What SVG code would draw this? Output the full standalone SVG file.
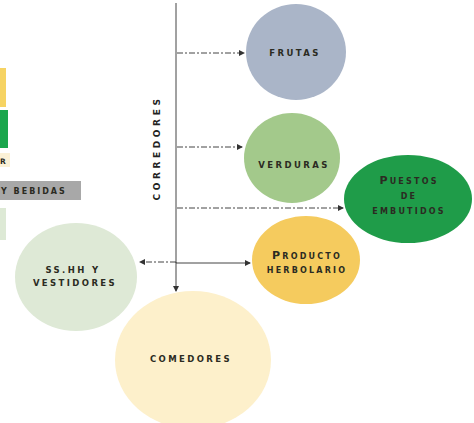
<svg xmlns="http://www.w3.org/2000/svg" width="474" height="423" viewBox="0 0 474 423">
<defs>
<marker id="ah" viewBox="0 0 6 6" refX="5" refY="3" markerWidth="6" markerHeight="6" orient="auto" markerUnits="userSpaceOnUse">
<path d="M0,0 L6,3 L0,6 Z" fill="#333"/>
</marker>
</defs>
<style>
.lbl{font-family:"DejaVu Sans","Liberation Sans",sans-serif;font-weight:bold;font-size:8.5px;letter-spacing:2.4px;fill:#2b2b22;text-anchor:middle}
.sc{font-size:11px;font-variant:small-caps;letter-spacing:2.2px}
.dd{stroke:#444;stroke-width:1;fill:none;stroke-dasharray:6 2 2 2;marker-end:url(#ah)}
.sl{stroke:#444;stroke-width:1;fill:none;marker-end:url(#ah)}
</style>
<rect width="474" height="423" fill="#fff"/>
<g id="legend">
<rect x="0" y="68" width="6" height="39" fill="#f6d363"/>
<rect x="0" y="110" width="8" height="38" fill="#1aa64c"/>
<rect x="0" y="153" width="10" height="14" fill="#fbf1d6"/>
<text x="0" y="164" class="lbl" style="text-anchor:start;font-size:7.5px">R</text>
<rect x="0" y="181" width="81" height="19" fill="#a8a8a8"/>
<text x="1" y="194" class="lbl" style="text-anchor:start;font-size:8px;letter-spacing:2px">Y BEBIDAS</text>
<rect x="0" y="208" width="6" height="32" fill="#dde9d5"/>
</g>
<g id="corredores">
<line x1="176" y1="3" x2="176" y2="263" stroke="#444" stroke-width="1"/>
<text x="160" y="148" class="lbl" transform="rotate(-90 160 148)" style="font-size:9px;letter-spacing:3.6px;fill:#222">CORREDORES</text>
</g>
<g id="connectors">
<path class="dd" d="M177,53 H244"/>
<path class="dd" d="M177,147 H242"/>
<path class="dd" d="M177,208 H343"/>
<path class="sl" d="M176,263 H250"/>
<path class="dd" d="M176,262 H140"/>
<path class="sl" d="M176,262 V291"/>
</g>
<g id="frutas">
<ellipse cx="296" cy="52" rx="50" ry="48" fill="#aab5c8"/>
<text x="295" y="56" class="lbl">FRUTAS</text>
</g>
<g id="verduras">
<ellipse cx="292" cy="158" rx="48" ry="45" fill="#a3c98b"/>
<text x="294" y="168" class="lbl">VERDURAS</text>
</g>
<g id="puestos">
<ellipse cx="408" cy="199" rx="64" ry="44" fill="#1f9c49"/>
<text x="409" y="184" class="lbl sc">Puestos</text>
<text x="409" y="199" class="lbl sc">de</text>
<text x="409" y="214" class="lbl sc">embutidos</text>
</g>
<g id="producto">
<ellipse cx="306" cy="260" rx="54" ry="44" fill="#f5cb5e"/>
<text x="307" y="259" class="lbl sc">Producto</text>
<text x="307" y="273" class="lbl sc">herbolario</text>
</g>
<g id="sshh">
<ellipse cx="76" cy="277" rx="61" ry="54" fill="#dee9d6"/>
<text x="73" y="273" class="lbl">SS.HH Y</text>
<text x="75" y="286" class="lbl">VESTIDORES</text>
</g>
<g id="comedores">
<ellipse cx="193" cy="360" rx="78" ry="69" fill="#fdf0cb"/>
<text x="191" y="362" class="lbl">COMEDORES</text>
</g>
</svg>
